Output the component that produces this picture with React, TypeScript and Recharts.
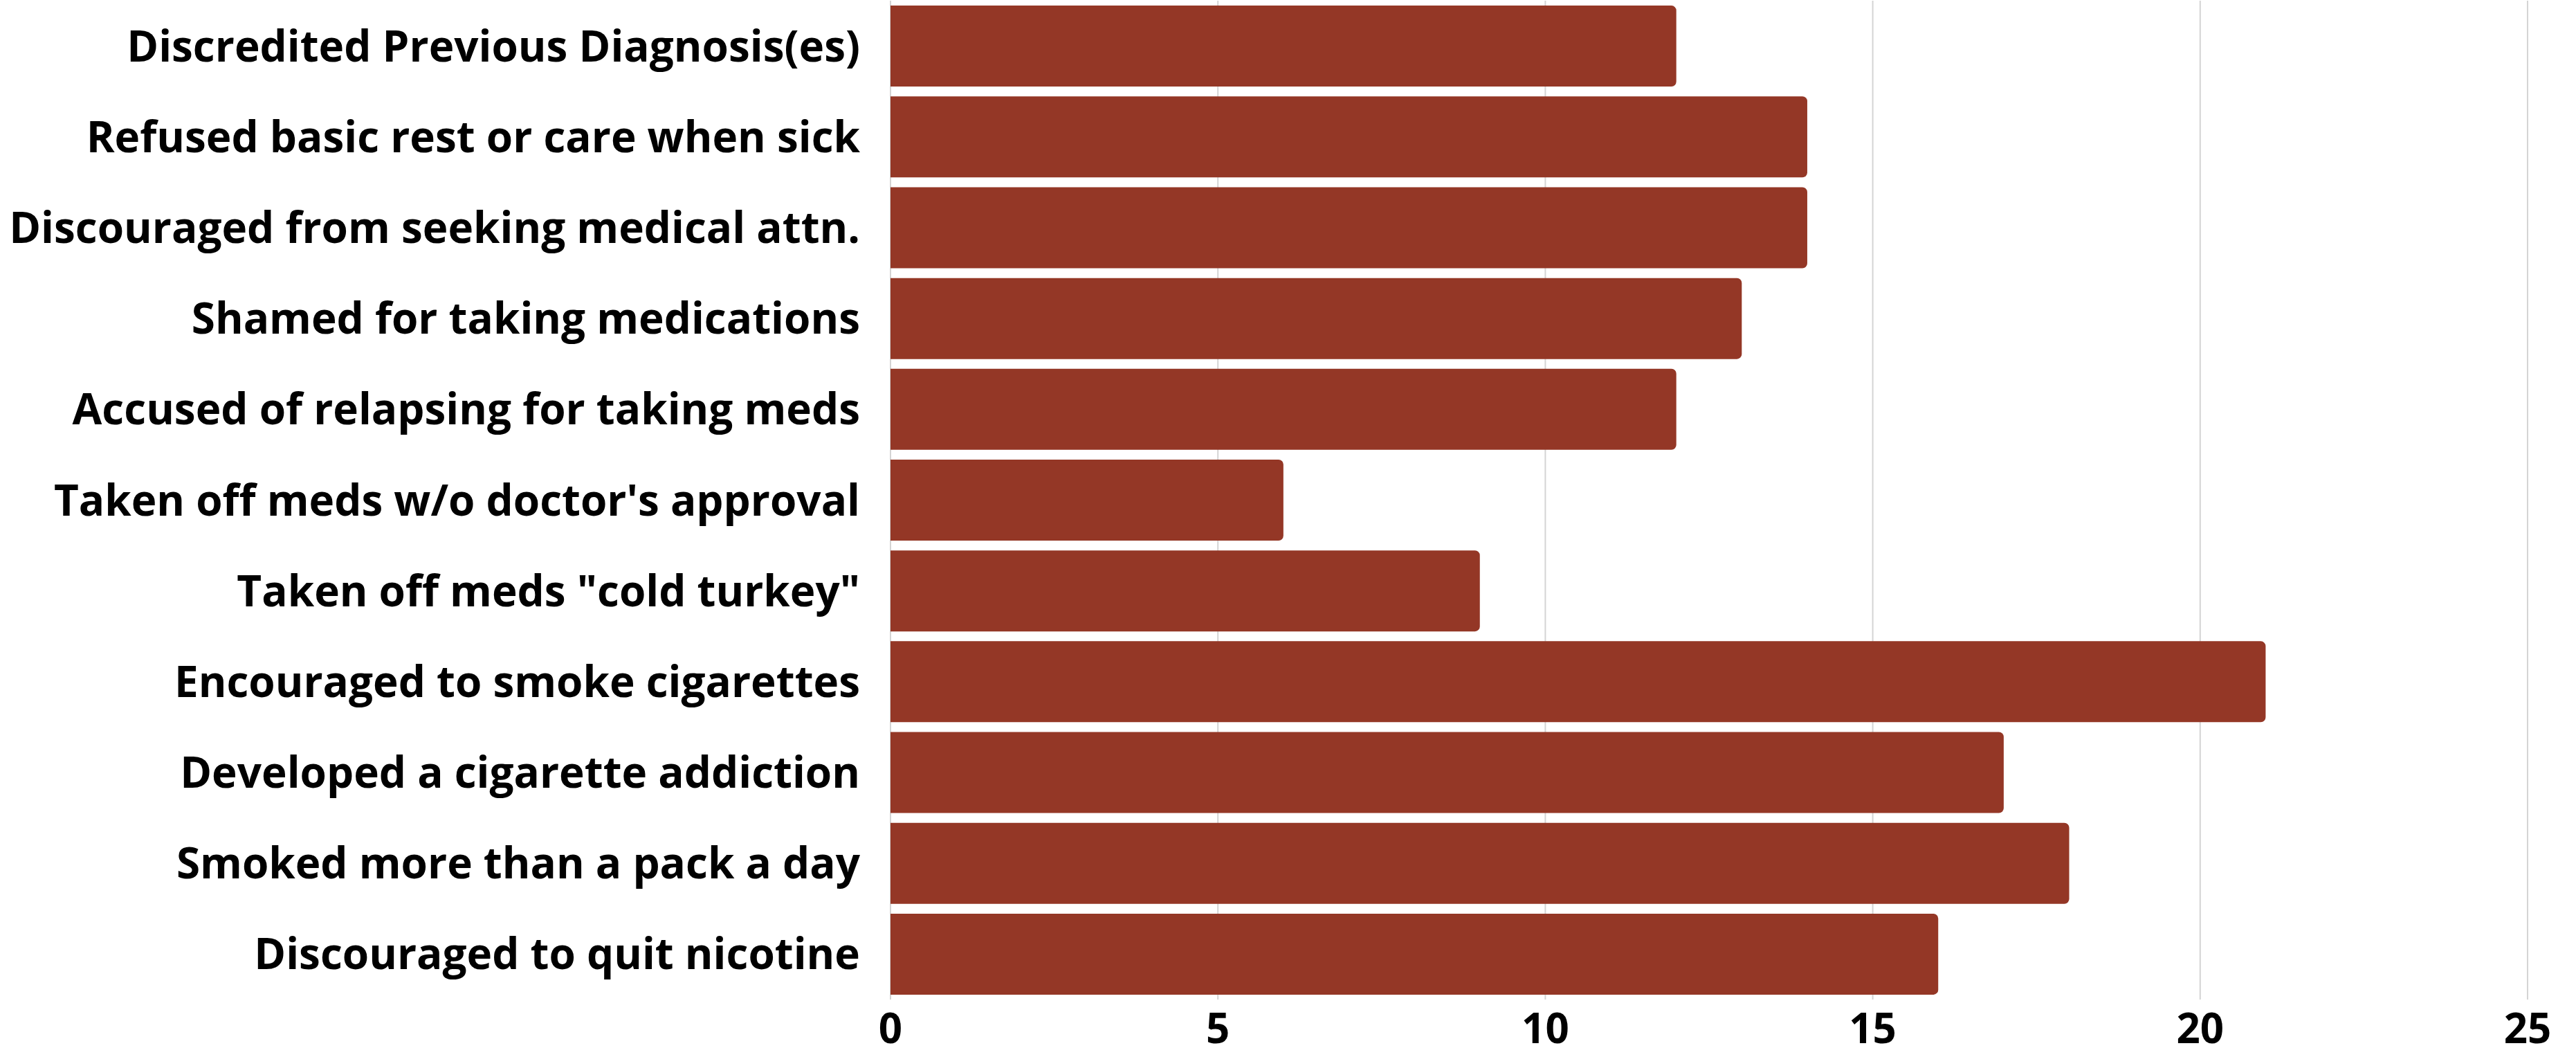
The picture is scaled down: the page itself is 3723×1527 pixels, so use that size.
import { Bar, BarChart, XAxis, YAxis, CartesianGrid } from "recharts"

const categories = [
  "Discredited Previous Diagnosis(es)",
  "Refused basic rest or care when sick",
  "Discouraged from seeking medical attn.",
  "Shamed for taking medications",
  "Accused of relapsing for taking meds",
  "Taken off meds w/o doctor's approval",
  'Taken off meds "cold turkey"',
  "Encouraged to smoke cigarettes",
  "Developed a cigarette addiction",
  "Smoked more than a pack a day",
  "Discouraged to quit nicotine",
]

const counts = [12, 14, 14, 13, 12, 6, 9, 21, 17, 18, 16]

const xTicks = [0, 5, 10, 15, 20, 25]

const data = categories.map((name, i) => ({ name, count: counts[i] }))

const font = "'Open Sans', Lato, sans-serif"

export default function App() {
  return (
    <div style={{ position: "absolute", left: 0, top: 0, fontFamily: font }}>
      <BarChart
        width={3723}
        height={1527}
        data={data}
        layout="vertical"
        margin={{ top: 1, right: 70, bottom: 0, left: 0 }}
        barCategoryGap="5.4%"
      >
        <CartesianGrid horizontal={false} stroke="#d4d4d4" strokeWidth={2} />
        <XAxis
          type="number"
          domain={[0, 25]}
          ticks={xTicks}
          height={83}
          axisLine={false}
          tickLine={false}
          tickMargin={14}
          tick={{ fill: "#000", fontSize: 60, fontWeight: 700, fontFamily: font }}
        />
        <YAxis
          type="category"
          dataKey="name"
          width={1287}
          axisLine={false}
          tickLine={false}
          tickMargin={38}
          interval={0}
          tick={{ fill: "#000", fontSize: 62, fontWeight: 700, fontFamily: font }}
        />
        <Bar dataKey="count" fill="#943726" radius={[0, 7, 7, 0]} isAnimationActive={false} />
      </BarChart>
    </div>
  )
}
